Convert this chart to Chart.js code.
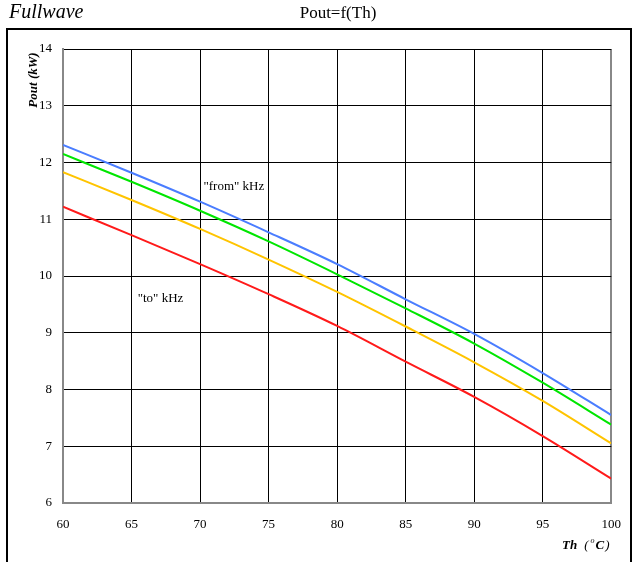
<!DOCTYPE html>
<html>
<head>
<meta charset="utf-8">
<script src="https://cdn.jsdelivr.net/npm/chart.js@4/dist/chart.umd.min.js"></script>
<style>
  html, body { margin: 0; padding: 0; background: #fff; }
  #wrap { width: 635px; height: 562px; }
</style>
</head>
<body>
<div id="wrap"><canvas id="chart" width="635" height="562"></canvas></div>
<script>
// Th (deg C) values along the x axis
const temps = [60, 65, 70, 75, 80, 85, 90, 95, 100];
// Pout (kW) for each curve, top to bottom
const blueVals   = [12.31, 11.82, 11.31, 10.77, 10.21, 9.59, 8.98, 8.29, 7.55];
const greenVals  = [12.15, 11.66, 11.15, 10.61, 10.03, 9.43, 8.81, 8.12, 7.38];
const yellowVals = [11.83, 11.34, 10.83, 10.29, 9.72, 9.11, 8.48, 7.80, 7.05];
const redVals    = [11.22, 10.72, 10.21, 9.68, 9.12, 8.49, 7.87, 7.18, 6.43];
const seriesNames = ['from', 'f2', 'f3', 'to'];
const seriesColors = ['#4a7dff', '#00e600', '#ffc400', '#ff1a1a'];
// text notes placed in data space
const notes = [
    { text: '"from" kHz', x: 70.25, y: 11.57 },
    { text: '"to" kHz', x: 65.45, y: 9.61 }
];

const serif = '"Liberation Serif", "Times New Roman", serif';

function toPoints(vals) {
    return temps.map((t, i) => ({ x: t, y: vals[i] }));
}

const decorPlugin = {
    id: 'decor',
    beforeDraw(chart) {
        const ctx = chart.ctx;
        ctx.save();
        ctx.fillStyle = '#fff';
        ctx.fillRect(0, 0, chart.width, chart.height);
        ctx.strokeStyle = '#000';
        ctx.lineWidth = 2;
        ctx.strokeRect(7, 29, 624, 560);
        ctx.restore();
    },
    afterDraw(chart) {
        const ctx = chart.ctx;
        const xs = chart.scales.x, ys = chart.scales.y;
        ctx.save();
        ctx.fillStyle = '#000';
        ctx.textBaseline = 'alphabetic';

        ctx.font = 'italic 20px ' + serif;
        ctx.textAlign = 'left';
        ctx.fillText('Fullwave', 9, 18);

        ctx.font = '17px ' + serif;
        ctx.textAlign = 'center';
        ctx.fillText('Pout=f(Th)', 338, 18);

        // notes
        ctx.font = '13px ' + serif;
        ctx.textAlign = 'left';
        ctx.textBaseline = 'middle';
        notes.forEach(n => ctx.fillText(n.text, xs.getPixelForValue(n.x), ys.getPixelForValue(n.y)));

        // y axis title
        ctx.save();
        ctx.translate(34, 80);
        ctx.rotate(-Math.PI / 2);
        ctx.textAlign = 'center';
        ctx.font = 'bold italic 13px ' + serif;
        ctx.fillText('Pout (kW)', 0, 0);
        ctx.restore();

        // x axis title
        ctx.textAlign = 'left';
        ctx.textBaseline = 'alphabetic';
        ctx.font = 'bold italic 13px ' + serif;
        let x = 562;
        const base = 549;
        ctx.fillText('Th', x, base);
        x += ctx.measureText('Th').width + 7;
        ctx.font = 'italic 13px ' + serif;
        ctx.fillText('(', x, base);
        x += ctx.measureText('(').width + 2;
        ctx.font = 'italic 8px ' + serif;
        ctx.fillText('o', x, base - 6);
        x += ctx.measureText('o').width + 1;
        ctx.font = 'bold italic 13px ' + serif;
        ctx.fillText('C', x, base);
        x += ctx.measureText('C').width + 1;
        ctx.font = 'italic 13px ' + serif;
        ctx.fillText(')', x, base);
        ctx.restore();
    }
};

const ctx = document.getElementById('chart').getContext('2d');
const chart = new Chart(ctx, {
    type: 'line',
    data: {
        datasets: [blueVals, greenVals, yellowVals, redVals].map((vals, i) => ({
            label: seriesNames[i],
            data: toPoints(vals),
            borderColor: seriesColors[i],
            borderWidth: 2,
            pointRadius: 0,
            cubicInterpolationMode: 'monotone',
            fill: false
        }))
    },
    options: {
        responsive: false,
        animation: false,
        layout: { padding: { left: 0, top: 49, right: 23, bottom: 0 } },
        plugins: {
            legend: { display: false },
            title: { display: false },
            tooltip: { enabled: false }
        },
        scales: {
            x: {
                type: 'linear',
                min: 60,
                max: 100,
                afterFit(scale) { scale.height = 59; },
                ticks: {
                    stepSize: 5,
                    color: '#000',
                    padding: 14,
                    font: { family: serif, size: 13 }
                },
                grid: {
                    drawTicks: false,
                    color: c => (c.tick && c.tick.value === 100) ? '#888' : '#000',
                    lineWidth: c => (c.tick && c.tick.value === 100) ? 2 : 1
                },
                border: { color: '#888', width: 2 }
            },
            y: {
                min: 6,
                max: 14,
                afterFit(scale) { scale.width = 63; },
                ticks: {
                    stepSize: 1,
                    color: '#000',
                    padding: 11,
                    font: { family: serif, size: 13 }
                },
                grid: {
                    drawTicks: false,
                    color: '#000',
                    lineWidth: 1
                },
                border: { color: '#888', width: 2 }
            }
        }
    },
    plugins: [decorPlugin]
});
</script>
</body>
</html>
